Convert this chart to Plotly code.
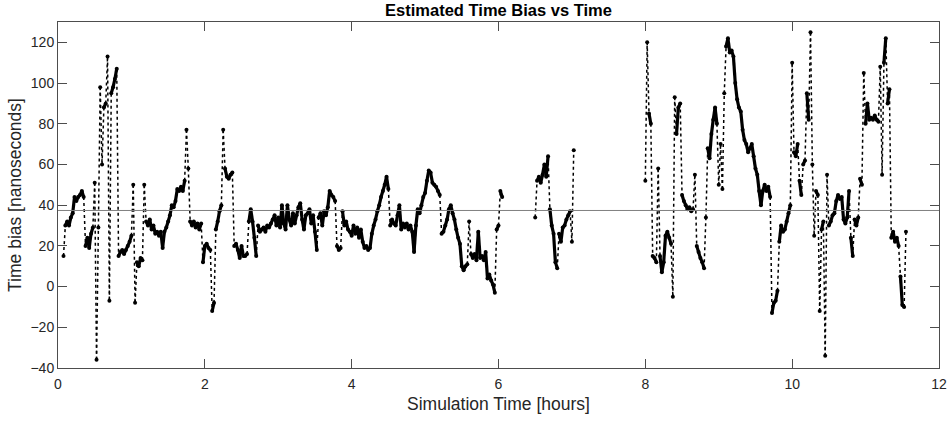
import numpy as np
import plotly.graph_objects as go

# ---- data (hours / nanoseconds) ----
step_hours = 0.025

seg_a_start = 0.075
seg_a_values = [
    15, 30, 32, 30, 34, 36, 44, 42, 44, 45, 47, 44,
    20, 24, 19, 26, 29, 51, -36, 29, 98, 60, 88, 90,
    113, -7, 95, 98, 102, 107,
    15, 17, 18, 16, 18, 20, 22, 25, 50, -8,
    12, 10, 14, 13, 50, 32, 30, 33, 28, 30, 26, 27, 25, 27, 19, 27, 29, 32, 35, 40,
    39, 42, 48, 47, 49, 47, 52, 77, 58,
    32, 30, 32, 29, 31, 28, 31, 12,
    20, 21, 19, 18, -12, -8, 28, 32, 37, 40, 77, 58, 54, 53, 55, 56,
    20, 21, 18, 14, 20, 15, 15, 16, 32, 38, 32, 24, 15, 30, 27, 28, 29, 27, 30, 29,
    31, 33, 35, 30,
    34, 29, 40, 31, 28, 40, 33, 30, 36, 31, 35, 39, 41, 33, 28, 35, 36, 38, 31, 35,
    27, 18, 34, 36, 30, 37, 35, 39, 47, 45, 44, 42,
    20, 18, 19, 37, 30, 32, 28, 27,
    25, 30, 26, 29, 24, 28, 22, 19, 20, 18, 19, 26, 30, 33, 37, 40, 44, 47, 50, 54, 48,
    30, 33, 31, 30, 35, 40, 28, 31, 29, 31, 28, 30, 27, 17, 30, 38, 36, 40, 44,
    46, 52, 57, 56, 51, 50, 49, 47, 45, 26, 27, 30, 33, 38, 40, 36, 33, 28, 24, 21,
    10, 8, 10, 11, 32, 16, 14, 16, 13, 27, 14, 15, 13, 17, 4, 6, 3, 1, -3, 28,
    30, 47, 44,
]

seg_b_start = 6.5
seg_b_values = [
    34, 52, 54, 51, 55, 60, 54, 64, 38, 30,
    26, 12, 9, 26, 22, 29, 30, 33, 35, 37,
    22, 67,
]

seg_c_start = 8.0
seg_c_values = [
    52, 120, 85, 80,
    15, 14, 12, 58, 15, 7, 12, 25, 27, 24, 21, -5, 93, 75, 88, 90,
    45, 42, 40, 38, 39, 37, 38, 55, 20, 17, 14, 12, 9, 34, 68, 63, 75, 82, 88, 80,
    50, 70, 48, 95, 118, 122, 115, 116, 113, 100, 92, 88, 86, 77, 72, 70, 66, 68, 70, 64,
    58, 55, 47, 40, 47, 50, 47, 49, 44, -13, -8, -7, -2, 22, 30, 27, 28, 32, 36, 40,
    110, 66, 64, 70, 52, 45, 60, 62, 95, 82, 125, 60, 25, 47, 45, -12, 28, 32, -34, 55,
    30, 32, 35, 36, 42, 45, 43, 44, 33, 31, 34, 47, 24, 15, 33, 30, 34, 53, 50, 105,
    80, 90, 82, 83, 82, 84, 82, 81, 108, 55, 110, 122, 90, 97, 24, 27, 22, 24, 20, 5,
    -9, -10, 27,
]

mean_bias = 37.4

x_tick_values = [0, 2, 4, 6, 8, 10, 12]
y_tick_values = [-40, -20, 0, 20, 40, 60, 80, 100, 120]

JUMP = 14  # a step bigger than this (ns) is drawn as a sparse dotted trail

# ---- assemble series (gaps between segments) ----
times, bias = [], []
for start, vals in [(seg_a_start, seg_a_values), (seg_b_start, seg_b_values), (seg_c_start, seg_c_values)]:
    times.append(list(start + step_hours * np.arange(len(vals))))
    bias.append(list(vals))

solid_x, solid_y, jump_x, jump_y = [], [], [], []
for tx, vy in zip(times, bias):
    for i in range(len(vy) - 1):
        if abs(vy[i + 1] - vy[i]) > JUMP:
            jump_x += [tx[i], tx[i + 1], None]
            jump_y += [vy[i], vy[i + 1], None]
        else:
            solid_x += [tx[i], tx[i + 1], None]
            solid_y += [vy[i], vy[i + 1], None]

all_x = sum([t + [None] for t in times], [])
all_y = sum([v + [None] for v in bias], [])

fig = go.Figure()
fig.add_trace(go.Scatter(x=jump_x, y=jump_y, mode="lines",
                         line=dict(color="black", width=1.5, dash="dot"), hoverinfo="skip"))
fig.add_trace(go.Scatter(x=solid_x, y=solid_y, mode="lines",
                         line=dict(color="black", width=3.2), hoverinfo="skip"))
fig.add_trace(go.Scatter(x=all_x, y=all_y, mode="markers",
                         marker=dict(color="black", size=4, line=dict(width=0))))

fig.add_shape(type="line", xref="paper", x0=0, x1=1, yref="y", y0=mean_bias, y1=mean_bias,
              line=dict(color="#808080", width=1))

axis_common = dict(
    showline=True, linecolor="#4d4d4d", linewidth=1, mirror="ticks",
    ticks="inside", ticklen=9, tickcolor="#4d4d4d", tickwidth=1,
    showgrid=False, zeroline=False, automargin=False,
    tickfont=dict(size=14, color="#262626"),
)

fig.update_layout(
    width=951, height=421,
    margin=dict(l=58, r=12, t=22, b=53, autoexpand=False),
    plot_bgcolor="white", paper_bgcolor="white",
    showlegend=False,
    font=dict(family="Liberation Sans, Arial, sans-serif", color="#262626"),
    title=dict(text="<b>Estimated Time Bias vs Time</b>", x=0.5, xref="paper",
               y=1 - 10 / 421, yref="container", yanchor="middle", automargin=False,
               font=dict(size=16.5, color="#000000")),
    xaxis=dict(range=[0, 12], tickvals=x_tick_values, ticklabelstandoff=3,
               title=dict(text="Simulation Time [hours]", font=dict(size=17.5), standoff=6),
               **axis_common),
    yaxis=dict(range=[-40, 130], tickvals=y_tick_values, ticklabelstandoff=0,
               title=dict(text="Time bias [nanoseconds]", font=dict(size=17.5), standoff=4),
               **axis_common),
)

fig.write_html("out.html", config={"displayModeBar": False},
               post_script="document.body.style.margin='0';")
